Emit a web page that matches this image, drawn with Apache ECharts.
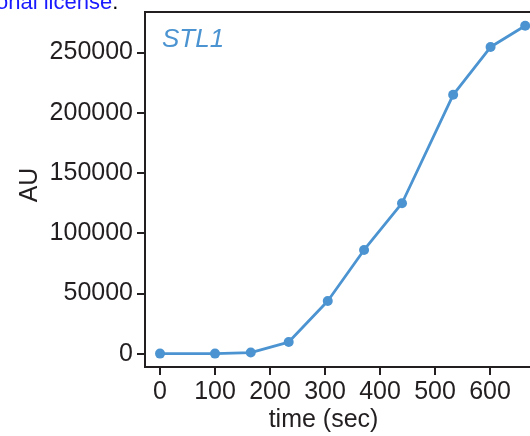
<!DOCTYPE html>
<html><head><meta charset="utf-8">
<script src="https://cdn.jsdelivr.net/npm/echarts@6/dist/echarts.min.js"></script>
<style>html,body{margin:0;padding:0;background:#fff}#c{width:530px;height:436px}</style>
</head><body><div id="c"></div>
<script>
const timeSec = [0, 100, 165, 234, 305, 371, 440, 533, 601, 664];
const auValues = [0, 0, 900, 9600, 43700, 86000, 124800, 214800, 254400, 272100];
const xTicks = [0, 100, 200, 300, 400, 500, 600];
const yTicks = [0, 50000, 100000, 150000, 200000, 250000];
const seriesLabel = 'STL1';
const xTitle = 'time (sec)';
const yTitle = 'AU';

const ink = '#231f20';
const blue = '#4b94d1';
const font = 'Liberation Sans, Arial, Helvetica, sans-serif';
const chart = echarts.init(document.getElementById('c'), null, {renderer: 'canvas'});
chart.setOption({
  animation: false,
  grid: {left: 145, top: 12, right: -4, bottom: 69, show: true, borderColor: ink, borderWidth: 2, outerBoundsMode: 'none', containLabel: false},
  xAxis: {
    type: 'value', min: -27.3, max: 680,
    axisLine: {show: true, onZero: false, lineStyle: {color: ink, width: 2}},
    axisTick: {show: true, length: 8, lineStyle: {color: ink, width: 2}, customValues: xTicks},
    axisLabel: {color: ink, fontSize: 25, fontFamily: font, margin: 13, customValues: xTicks, formatter: v => String(v)},
    splitLine: {show: false}
  },
  yAxis: {
    type: 'value', min: -11100, max: 283500,
    axisLine: {show: true, onZero: false, lineStyle: {color: ink, width: 2}},
    axisTick: {show: true, length: 8, lineStyle: {color: ink, width: 2}, customValues: yTicks},
    axisLabel: {color: ink, fontSize: 25, fontFamily: font, margin: 12, customValues: yTicks, formatter: v => String(v)},
    splitLine: {show: false}
  },
  graphic: [
    {type: 'text', left: 162, top: 27, style: {text: seriesLabel, fill: blue, font: 'italic 26px ' + font}},
    {type: 'text', x: 323.5, y: 420, style: {text: xTitle, fill: ink, font: '25px ' + font, align: 'center', verticalAlign: 'middle'}},
    {type: 'text', x: 30, y: 185, rotation: Math.PI / 2, style: {text: yTitle, fill: ink, font: '25px ' + font, align: 'center', verticalAlign: 'middle'}},
    {type: 'text', x: -4, y: -8, style: {rich: {a: {fill: '#1a1aff', font: '22px ' + font}, b: {fill: '#000', font: '22px ' + font}}, text: '{a|onal license}{b|.}'}}
  ],
  series: [{
    type: 'line', data: timeSec.map((t, i) => [t, auValues[i]]),
    symbol: 'circle', symbolSize: 10, lineStyle: {color: blue, width: 2.8},
    itemStyle: {color: blue}, clip: false
  }]
});
</script></body></html>
